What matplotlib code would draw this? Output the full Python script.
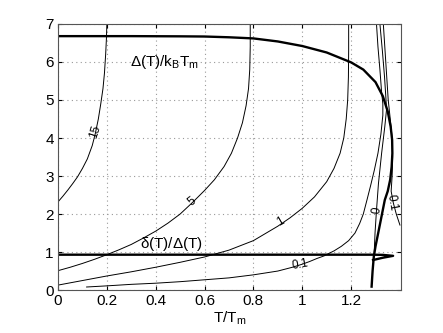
import matplotlib
matplotlib.use('Agg')
import matplotlib.pyplot as plt

plt.rcParams['font.family'] = ['Liberation Sans', 'DejaVu Sans']
plt.rcParams['mathtext.fontset'] = 'custom'
plt.rcParams['mathtext.rm'] = 'Liberation Sans'
plt.rcParams['mathtext.it'] = 'Liberation Sans'

# gap curve Delta(T)/kB Tm
gap_x = [0, 0.3, 0.5, 0.6, 0.7, 0.8, 0.9, 1.0, 1.1, 1.2, 1.25, 1.3, 1.33, 1.35, 1.362, 1.368, 1.369, 1.366,
         1.36, 1.35, 1.338, 1.325, 1.311, 1.3, 1.293, 1.288, 1.284]
gap_y = [6.68, 6.68, 6.675, 6.67, 6.65, 6.62, 6.54, 6.42, 6.25, 5.99, 5.8, 5.47, 5.1, 4.7, 4.3, 3.95, 3.6, 3.24,
         2.9, 2.6, 2.37, 1.95, 1.5, 1.15, 0.88, 0.5, 0.09]

# ratio delta(T)/Delta(T)
ratio_x = [0, 0.5, 1.0, 1.2, 1.29, 1.33, 1.372, 1.33, 1.29]
ratio_y = [0.93, 0.93, 0.93, 0.93, 0.93, 0.925, 0.9, 0.85, 0.79]

# contour lines
c15_x = [0, 0.02, 0.04, 0.06, 0.08, 0.1, 0.12, 0.14, 0.152, 0.165, 0.175, 0.184, 0.19, 0.195, 0.198, 0.2]
c15_y = [2.32, 2.47, 2.63, 2.8, 2.98, 3.2, 3.45, 3.8, 4.1, 4.5, 4.9, 5.3, 5.7, 6.2, 6.6, 7.0]
c5_x = [0, 0.05, 0.1, 0.15, 0.2, 0.25, 0.3, 0.35, 0.4, 0.45, 0.5, 0.55, 0.6, 0.64, 0.68, 0.71, 0.735,
        0.755, 0.77, 0.78, 0.785, 0.787, 0.787]
c5_y = [0.51, 0.6, 0.7, 0.81, 0.93, 1.06, 1.2, 1.37, 1.55, 1.76, 2.0, 2.3, 2.62, 2.9, 3.25, 3.6, 4.0,
        4.4, 4.85, 5.3, 5.8, 6.4, 7.0]
c1_x = [0, 0.1, 0.2, 0.3, 0.4, 0.5, 0.6, 0.7, 0.8, 0.9, 0.95, 1.0, 1.05, 1.1, 1.13, 1.155, 1.17, 1.18,
        1.186, 1.189, 1.19, 1.19]
c1_y = [0.13, 0.25, 0.37, 0.48, 0.6, 0.73, 0.87, 1.05, 1.3, 1.68, 1.9, 2.15, 2.45, 2.85, 3.2, 3.6, 4.0, 4.5,
        5.0, 5.6, 6.3, 7.0]
c01_x = [0.117, 0.2, 0.3, 0.4, 0.5, 0.6, 0.7, 0.8, 0.9, 0.96, 1.0, 1.03, 1.06, 1.09, 1.105, 1.13, 1.16,
         1.19, 1.216, 1.235, 1.25, 1.265, 1.28, 1.295, 1.31, 1.322, 1.33, 1.33, 1.325, 1.318, 1.31, 1.304]
c01_y = [0.08, 0.11, 0.15, 0.18, 0.22, 0.27, 0.32, 0.4, 0.5, 0.6, 0.68, 0.75, 0.83, 0.9, 0.95, 1.03, 1.15,
         1.3, 1.5, 1.75, 2.0, 2.37, 2.75, 3.15, 3.6, 4.1, 4.6, 4.9, 5.2, 5.8, 6.4, 7.0]
c0_x = [1.29, 1.294, 1.298, 1.304, 1.312, 1.325, 1.338, 1.345, 1.343, 1.337, 1.328, 1.318]
c0_y = [0.8, 0.88, 1.5, 2.1, 2.8, 3.6, 4.3, 4.74, 5.0, 5.6, 6.3, 7.0]
cm01_x = [1.332, 1.342, 1.352, 1.362, 1.368, 1.37, 1.368, 1.364, 1.373, 1.385, 1.4]
cm01_y = [7.0, 6.0, 5.0, 4.4, 4.0, 3.5, 3.0, 2.6, 2.29, 2.0, 1.71]

labels = ['15', '5', '1', '0.1', '0', '0.1']
label_x = [0.152, 0.55, 0.91, 0.99, 1.304, 1.366]
label_y = [4.17, 2.32, 1.8, 0.66, 2.1, 2.3]
label_rot = [72, 40, 30, 10, 82, -80]

fig = plt.figure(figsize=(4.43, 3.33), dpi=100)
ax = fig.add_axes([0.131, 0.129, 0.774, 0.799])

for cx, cy in [(c15_x, c15_y), (c5_x, c5_y), (c1_x, c1_y), (c01_x, c01_y), (c0_x, c0_y), (cm01_x, cm01_y)]:
    ax.plot(cx, cy, color='black', lw=0.7)
for s, lx, ly, r in zip(labels, label_x, label_y, label_rot):
    ax.text(lx, ly, s, fontsize=8.5, rotation=r, ha='center', va='center', rotation_mode='anchor')

ax.plot(gap_x, gap_y, color='black', lw=1.7)
ax.plot(ratio_x, ratio_y, color='black', lw=1.7)

ax.text(0.295, 6.0, r'$\Delta$(T)/k$_\mathregular{B}$T$_\mathregular{m}$', fontsize=11, va='center')
ax.text(0.336, 1.21, r'$\delta$(T)/$\Delta$(T)', fontsize=11, va='center')

ax.set_xlim(0, 1.404)
ax.set_ylim(0, 7)
ax.set_xticks([0, 0.2, 0.4, 0.6, 0.8, 1, 1.2])
ax.set_xticklabels(['0', '0.2', '0.4', '0.6', '0.8', '1', '1.2'])
ax.set_yticks(range(8))
ax.grid(True, linestyle=(0, (1, 3)), color='#999999', lw=0.8)
ax.tick_params(direction='in', top=True, right=True, labelsize=11, length=3, pad=3)
for sp in ax.spines.values():
    sp.set_color('#555555')
ax.set_xlabel(r'T/T$_\mathregular{m}$', fontsize=11, labelpad=1)

fig.savefig('out.png', dpi=100)
